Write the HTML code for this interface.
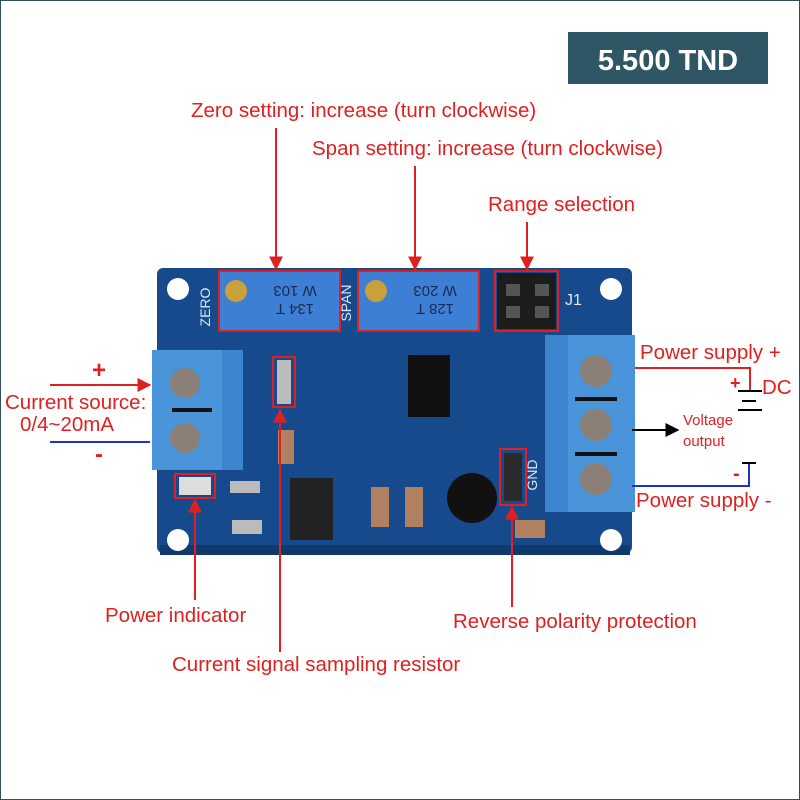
<!DOCTYPE html>
<html><head><meta charset="utf-8"><style>
html,body{margin:0;padding:0;background:#fff}
svg{display:block}
text{font-family:"Liberation Sans",Arial,sans-serif}
</style></head><body>
<svg width="800" height="800" viewBox="0 0 800 800" xmlns="http://www.w3.org/2000/svg">
<defs>
<marker id="ar" viewBox="0 0 10 10" refX="9" refY="5" markerWidth="7" markerHeight="7" orient="auto"><path d="M0,0L10,5L0,10z" fill="#e02020"/></marker>
<marker id="ab" viewBox="0 0 10 10" refX="9" refY="5" markerWidth="7" markerHeight="7" orient="auto"><path d="M0,0L10,5L0,10z" fill="#000"/></marker>
</defs>
<rect x="0.5" y="0.5" width="799" height="799" fill="#fff" stroke="#2f4f5a"/>
<rect x="568" y="32" width="200" height="52" fill="#2e5664"/>
<text x="668" y="70" fill="#fff" font-size="29" font-weight="bold" text-anchor="middle">5.500 TND</text>

<!-- board -->
<rect x="157" y="268" width="475" height="285" rx="6" fill="#164a8c"/>
<rect x="160" y="545" width="470" height="10" fill="#0f3a6e"/>
<g fill="#fff"><circle cx="178" cy="289" r="11"/><circle cx="611" cy="289" r="11"/><circle cx="178" cy="540" r="11"/><circle cx="611" cy="540" r="11"/></g>
<!-- pots -->
<rect x="220" y="272" width="119" height="58" fill="#3d7fd4"/>
<rect x="359" y="272" width="119" height="58" fill="#3d7fd4"/>
<circle cx="236" cy="291" r="11" fill="#c9a13a"/><circle cx="376" cy="291" r="11" fill="#c9a13a"/>
<text x="295" y="294" font-size="15" fill="#1a2a50" text-anchor="middle" transform="rotate(180 295 290)">W 103</text>
<text x="295" y="316" font-size="15" fill="#1a2a50" text-anchor="middle" transform="rotate(180 295 310)">134 T</text>
<text x="435" y="294" font-size="15" fill="#1a2a50" text-anchor="middle" transform="rotate(180 435 290)">W 203</text>
<text x="435" y="316" font-size="15" fill="#1a2a50" text-anchor="middle" transform="rotate(180 435 310)">128 T</text>
<text x="210" y="307" font-size="14" fill="#dbe6f5" text-anchor="middle" transform="rotate(-90 210 307)">ZERO</text>
<text x="351" y="303" font-size="14" fill="#dbe6f5" text-anchor="middle" transform="rotate(-90 351 303)">SPAN</text>
<g fill="none" stroke="#e02020" stroke-width="2"><rect x="219" y="271" width="121" height="60"/><rect x="358" y="271" width="121" height="60"/><rect x="495" y="271" width="63" height="60"/><rect x="273" y="357" width="22" height="50"/><rect x="175" y="474" width="40" height="24"/><rect x="500" y="449" width="26" height="56"/></g>
<rect x="497" y="273" width="59" height="56" fill="#1c1c1c"/>
<g fill="#555"><rect x="506" y="284" width="14" height="12"/><rect x="535" y="284" width="14" height="12"/><rect x="506" y="306" width="14" height="12"/><rect x="535" y="306" width="14" height="12"/></g>
<text x="565" y="305" font-size="16" fill="#dfe6f0">J1</text>
<!-- chips -->
<rect x="408" y="355" width="42" height="62" fill="#111"/>
<rect x="290" y="478" width="43" height="62" fill="#222"/>
<circle cx="472" cy="498" r="25" fill="#111"/>
<rect x="504" y="453" width="18" height="48" fill="#2a2a2a"/>
<rect x="179" y="477" width="32" height="18" fill="#ddd"/>
<g fill="#b08060"><rect x="278" y="430" width="16" height="34"/><rect x="371" y="487" width="18" height="40"/><rect x="405" y="487" width="18" height="40"/><rect x="515" y="520" width="30" height="18"/></g>
<g fill="#bbb"><rect x="277" y="360" width="14" height="44"/><rect x="232" y="520" width="30" height="14"/><rect x="230" y="481" width="30" height="12"/></g>
<!-- terminals -->
<rect x="152" y="350" width="91" height="120" fill="#3c86d0"/>
<rect x="152" y="350" width="70" height="120" fill="#4a95da"/>
<circle cx="185" cy="383" r="15" fill="#8a8078"/><circle cx="185" cy="438" r="15" fill="#8a8078"/>
<rect x="172" y="408" width="40" height="4" fill="#111"/>
<rect x="545" y="335" width="90" height="177" fill="#3c86d0"/>
<rect x="568" y="335" width="67" height="177" fill="#4a95da"/>
<circle cx="596" cy="371" r="16" fill="#8a8078"/><circle cx="596" cy="425" r="16" fill="#8a8078"/><circle cx="596" cy="479" r="16" fill="#8a8078"/>
<rect x="575" y="397" width="42" height="4" fill="#111"/><rect x="575" y="452" width="42" height="4" fill="#111"/>
<text x="537" y="475" font-size="14" fill="#dfe6f0" text-anchor="middle" transform="rotate(-90 537 475)">GND</text>

<!-- labels -->
<g fill="#e02020" font-size="20.5">
<text x="191" y="117">Zero setting: increase (turn clockwise)</text>
<text x="312" y="155">Span setting: increase (turn clockwise)</text>
<text x="488" y="211">Range selection</text>
<text x="5" y="409">Current source:</text>
<text x="20" y="431">0/4~20mA</text>
<text x="640" y="359">Power supply +</text>
<text x="636" y="507">Power supply -</text>
<text x="105" y="622">Power indicator</text>
<text x="172" y="671">Current signal sampling resistor</text>
<text x="453" y="628">Reverse polarity protection</text>
<text x="762" y="394">DC</text>
</g>
<g fill="#e02020" font-size="24" font-weight="bold"><text x="92" y="378">+</text><text x="95" y="462">-</text><text x="730" y="389" font-size="18">+</text><text x="733" y="480" font-size="20">-</text></g>
<g fill="#e02020" font-size="15"><text x="683" y="425">Voltage</text><text x="683" y="446">output</text></g>

<g stroke="#e02020" stroke-width="2" fill="none">
<line x1="276" y1="128" x2="276" y2="269" marker-end="url(#ar)"/>
<line x1="415" y1="166" x2="415" y2="269" marker-end="url(#ar)"/>
<line x1="527" y1="222" x2="527" y2="269" marker-end="url(#ar)"/>
<line x1="50" y1="385" x2="150" y2="385" marker-end="url(#ar)"/>
<polyline points="635,368 750,368 750,391"/>
<line x1="195" y1="600" x2="195" y2="500" marker-end="url(#ar)"/>
<line x1="280" y1="652" x2="280" y2="410" marker-end="url(#ar)"/>
<line x1="512" y1="607" x2="512" y2="507" marker-end="url(#ar)"/>
</g>
<line x1="50" y1="442" x2="150" y2="442" stroke="#2030d0" stroke-width="2"/>
<polyline points="632,486 749,486 749,463" stroke="#2030d0" stroke-width="2" fill="none"/>
<g stroke="#000" stroke-width="2"><line x1="738" y1="391" x2="762" y2="391"/><line x1="742" y1="401" x2="756" y2="401"/><line x1="738" y1="410" x2="762" y2="410"/><line x1="742" y1="463" x2="756" y2="463"/>
<line x1="632" y1="430" x2="678" y2="430" marker-end="url(#ab)"/></g>
</svg>
</body></html>
